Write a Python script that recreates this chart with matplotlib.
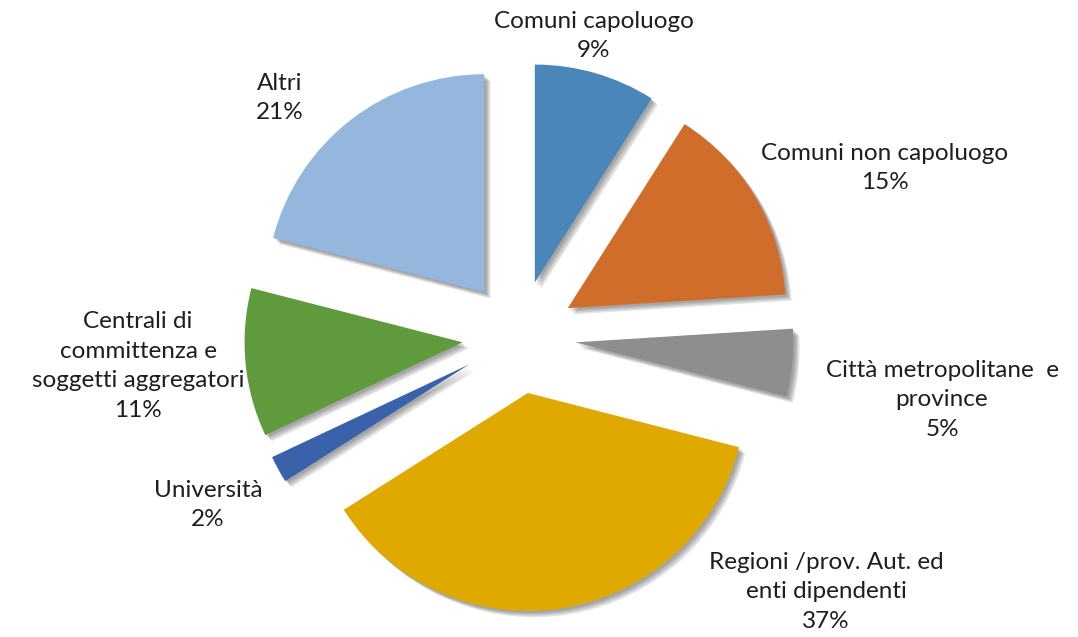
import matplotlib
matplotlib.use("Agg")
import matplotlib.pyplot as plt
import matplotlib.patheffects as pe

categories = ["Comuni capoluogo", "Comuni non capoluogo", "Città metropolitane  e\nprovince",
              "Regioni /prov. Aut. ed\nenti dipendenti", "Università",
              "Centrali di\ncommittenza e\nsoggetti aggregatori", "Altri"]
values = [9, 15, 5, 37, 2, 11, 21]
colors = ["#4A86BA", "#D16D2B", "#8E8E8E", "#E0A900", "#3A62AB", "#5F9A3C", "#95B6DD"]

# label centres in pixel coordinates (x, y from top)
label_pos = [(594, 36), (885, 168), (942, 400), (826, 592), (208, 505), (138, 366), (280, 98)]

W, H = 1078, 637
fig = plt.figure(figsize=(W / 100, H / 100), dpi=100)
ax = fig.add_axes([0, 0, 1, 1])
R = 218.0
cx, cy = 519.0, 337.0

shadow = [pe.SimplePatchShadow(offset=(o, -o), shadow_rgbFace="#000000", alpha=0.10)
          for o in (1.5, 2.5, 3.5, 4.5)] + [pe.Normal()]

wedges, _ = ax.pie(values, colors=colors, startangle=90, counterclock=False,
                   explode=[0.26] * len(values), radius=1.0, center=(0, 0),
                   wedgeprops=dict(linewidth=0, path_effects=shadow))
ax.set_xlim(-cx / R, (W - cx) / R)
ax.set_ylim(-(H - cy) / R, cy / R)
ax.set_aspect("equal")
ax.axis("off")

for cat, v, (px, py) in zip(categories, values, label_pos):
    fig.text(px / W, 1 - py / H, f"{cat}\n{v}%", ha="center", va="center",
             fontsize=17.5, family="Lato", color="#1E1E1E", linespacing=1.52)

fig.savefig("out.png", dpi=100, facecolor="white")
